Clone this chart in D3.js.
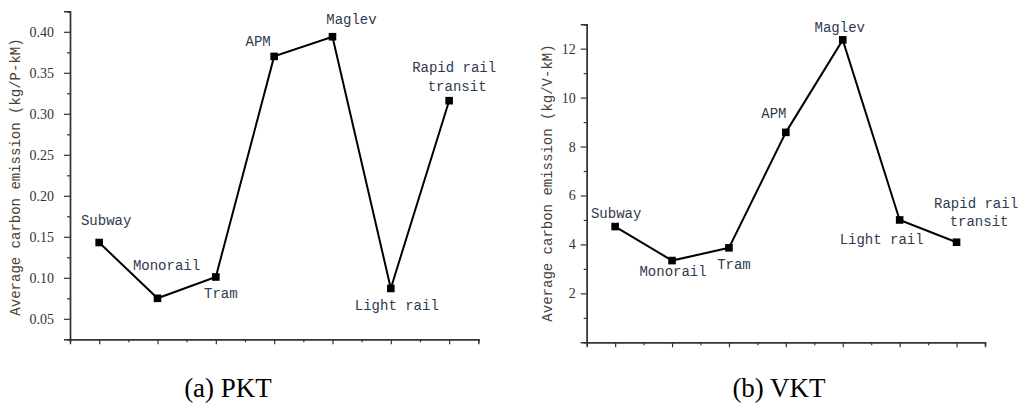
<!DOCTYPE html>
<html>
<head>
<meta charset="utf-8">
<script src="https://cdn.jsdelivr.net/npm/d3@7"></script>
<style>
  html, body { margin: 0; padding: 0; background: #fff; }
  svg { display: block; }
</style>
</head>
<body>
<svg id="chart" width="1019" height="408"></svg>
<script>
// Transport modes along the x axis
const modes = ["Subway", "Monorail", "Tram", "APM", "Maglev", "Light rail", "Rapid rail transit"];

// Average carbon emission per passenger-km (kg/P-kM)
const pktValues = [0.143, 0.075, 0.101, 0.370, 0.394, 0.087, 0.316];
// Average carbon emission per vehicle-km (kg/V-kM)
const vktValues = [4.73, 3.34, 3.86, 8.58, 12.36, 5.00, 4.09];

// Y tick labels
const pktTicks = [0.05, 0.10, 0.15, 0.20, 0.25, 0.30, 0.35, 0.40];
const vktTicks = [2, 4, 6, 8, 10, 12];

const pktTitle = "Average carbon emission (kg/P-kM)";
const vktTitle = "Average carbon emission (kg/V-kM)";
const captions = ["(a) PKT", "(b) VKT"];

// Label placement relative to each point (layout only)
const pktLabelOffsets = [[7, -22], [9, -32], [5, 17], [-16, -14], [19, -17], [6, 18], [5, -23]];
const vktLabelOffsets = [[1, -13], [1, 11], [5, 17], [-12, -18], [-3, -12], [-18, 20], [19.5, -29]];

const svg = d3.select("#chart");
const labelFont = "'Liberation Mono', 'DejaVu Sans Mono', monospace";
const tickFont = "'Liberation Serif', 'DejaVu Serif', serif";

function drawPanel(opt) {
  const x = d3.scaleLinear().domain([0.5, 7.5]).range([opt.left, opt.right]);
  const y = d3.scaleLinear().domain(opt.yDomain).range([opt.bottom, opt.top]);
  const g = svg.append("g");

  // Y axis: major ticks with labels, minor ticks between
  g.append("g")
    .attr("transform", `translate(${opt.left},0)`)
    .call(d3.axisLeft(y).tickValues(opt.ticks).tickSize(6).tickPadding(opt.tickPad)
      .tickFormat(opt.format));
  g.append("g")
    .attr("transform", `translate(${opt.left},0)`)
    .call(d3.axisLeft(y).tickValues(opt.minor).tickSize(3).tickFormat(""));

  // X axis: category ticks, no labels
  g.append("g")
    .attr("transform", `translate(0,${opt.bottom})`)
    .call(d3.axisBottom(x).tickValues(d3.range(1, 8)).tickSize(5).tickFormat(""));
  g.append("g")
    .attr("transform", `translate(0,${opt.bottom})`)
    .call(d3.axisBottom(x).tickValues(d3.range(0.5, 8, 1)).tickSize(3).tickFormat(""));

  g.selectAll(".domain").attr("stroke", "#333").attr("stroke-width", 1.4);
  g.selectAll(".tick line").attr("stroke", "#333").attr("stroke-width", 1.2);
  g.selectAll(".tick text")
    .attr("font-family", tickFont).attr("font-size", 14).attr("fill", "#333");

  // Axis title
  g.append("text")
    .attr("transform", `translate(${opt.titleX},${opt.titleY}) rotate(-90)`)
    .attr("text-anchor", "middle")
    .attr("dominant-baseline", "central")
    .attr("font-family", labelFont).attr("font-size", 14)
    .attr("fill", "#4a4136")
    .text(opt.title);

  // Line and markers
  const pts = opt.values.map((v, i) => [x(i + 1), y(v)]);
  g.append("path")
    .attr("d", d3.line()(pts))
    .attr("fill", "none").attr("stroke", "#000").attr("stroke-width", 2);
  g.selectAll("rect.mk").data(opt.values).join("rect")
    .attr("class", "mk")
    .attr("x", (d, i) => x(i + 1) - 3.8).attr("y", d => y(d) - 3.8)
    .attr("width", 7.6).attr("height", 7.6).attr("fill", "#000");

  // Point labels
  opt.values.forEach((v, i) => {
    const [dx, dy] = opt.offsets[i];
    const words = modes[i] === "Rapid rail transit" ? ["Rapid rail", "transit"] : [modes[i]];
    const t = g.append("text")
      .attr("text-anchor", "middle")
      .attr("font-family", labelFont).attr("font-size", 14)
      .attr("fill", "#2f3a4e");
    words.forEach((w, k) => {
      t.append("tspan")
        .attr("x", x(i + 1) + dx + (k === 1 ? 3 : 0))
        .attr("y", y(v) + dy + (k - (words.length - 1) / 2) * 18.5)
        .attr("dominant-baseline", "central")
        .text(w);
    });
  });

  // Caption
  svg.append("text")
    .attr("x", opt.captionX).attr("y", 397)
    .attr("text-anchor", "middle")
    .attr("font-family", "'Liberation Serif', 'Times New Roman', serif")
    .attr("font-size", 27).attr("fill", "#000")
    .text(opt.caption);
}

drawPanel({
  left: 70, right: 478.3, top: 11.3, bottom: 339.3,
  yDomain: [0.025, 0.425], ticks: pktTicks,
  minor: d3.range(0, 9).map(i => 0.025 + i * 0.05),
  format: d3.format(".2f"), tickPad: 10,
  values: pktValues, offsets: pktLabelOffsets,
  title: pktTitle, titleX: 16, titleY: 177,
  caption: captions[0], captionX: 228
});

drawPanel({
  left: 586.7, right: 985, top: 24.2, bottom: 342.3,
  yDomain: [0, 13], ticks: vktTicks,
  minor: d3.range(1, 14, 2),
  format: d3.format("d"), tickPad: 5,
  values: vktValues, offsets: vktLabelOffsets,
  title: vktTitle, titleX: 548, titleY: 183,
  caption: captions[1], captionX: 779
});
</script>
</body>
</html>
